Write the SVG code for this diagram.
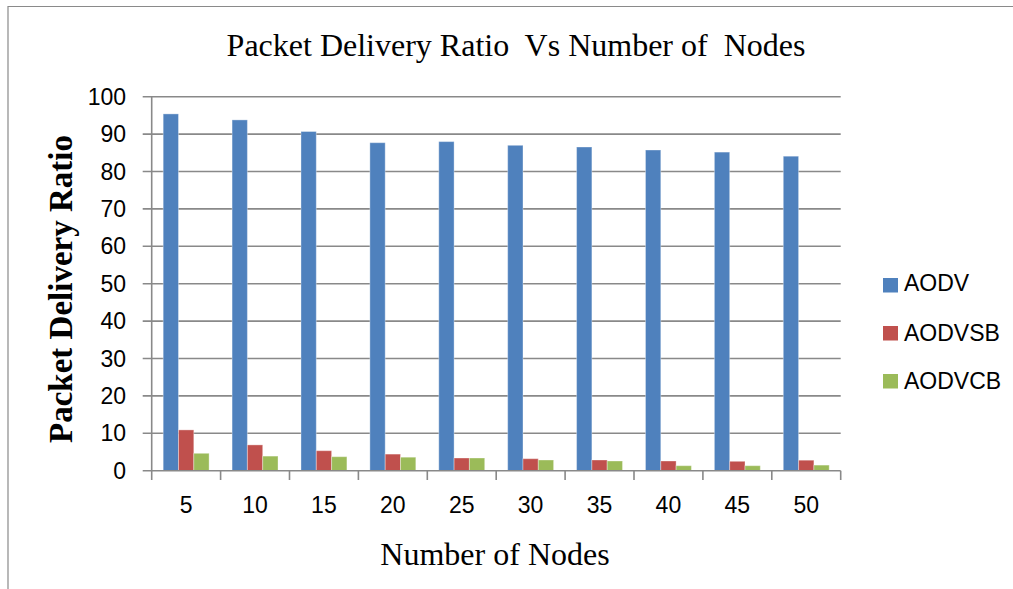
<svg xmlns="http://www.w3.org/2000/svg" width="1013" height="589" viewBox="0 0 1013 589">
<style>
.grid{stroke:#898989;stroke-width:1.6;fill:none}
.axis{stroke:#898989;stroke-width:1.6;fill:none}
.frame{stroke:#8a8a8a;stroke-width:1.2;fill:none}
.tick{font-family:"Liberation Sans",Arial,sans-serif;font-size:23px;fill:#000}
.ser{font-family:"Liberation Serif","Times New Roman",serif;fill:#000}
.aodv{fill:#4F81BD}
.sb{fill:#C0504D}
.cb{fill:#9BBB59}
.bar{stroke:#ffffff;stroke-opacity:0.35;stroke-width:1}
</style>
<rect width="1013" height="589" fill="#fff"/>
<path class="frame" d="M8,589 V6.5 H1013"/>
<text class="ser" x="516" y="56" font-size="32" text-anchor="middle" xml:space="preserve">Packet Delivery Ratio  Vs Number of  Nodes</text>
<text class="ser" font-size="33" font-weight="bold" text-anchor="middle" transform="translate(72,289) rotate(-90)">Packet Delivery Ratio</text>
<text class="ser" x="495" y="565" font-size="32" text-anchor="middle">Number of Nodes</text>
<g id="gridlines">
<path class="grid" d="M142.7,96.7H840.7M142.7,134.1H840.7M142.7,171.5H840.7M142.7,208.9H840.7M142.7,246.3H840.7M142.7,283.7H840.7M142.7,321.1H840.7M142.7,358.5H840.7M142.7,395.9H840.7M142.7,433.3H840.7"/>
</g>
<g id="yticks" class="tick" text-anchor="end">
<text x="126" y="104.7">100</text>
<text x="126" y="142.1">90</text>
<text x="126" y="179.5">80</text>
<text x="126" y="216.9">70</text>
<text x="126" y="254.3">60</text>
<text x="126" y="291.7">50</text>
<text x="126" y="329.1">40</text>
<text x="126" y="366.5">30</text>
<text x="126" y="403.9">20</text>
<text x="126" y="441.3">10</text>
<text x="126" y="478.7">0</text>
</g>
<g id="series-aodv" class="aodv bar">
<rect x="163.18" y="113.9" width="15.31" height="356.8"/>
<rect x="232.08" y="119.9" width="15.31" height="350.8"/>
<rect x="300.98" y="131.5" width="15.31" height="339.2"/>
<rect x="369.88" y="142.7" width="15.31" height="328.0"/>
<rect x="438.78" y="141.6" width="15.31" height="329.1"/>
<rect x="507.68" y="145.3" width="15.31" height="325.4"/>
<rect x="576.58" y="147.0" width="15.31" height="323.7"/>
<rect x="645.48" y="150.0" width="15.31" height="320.7"/>
<rect x="714.38" y="152.1" width="15.31" height="318.6"/>
<rect x="783.28" y="156.2" width="15.31" height="314.5"/>
</g>
<g id="series-aodvsb" class="sb bar">
<rect x="178.49" y="429.9" width="15.31" height="40.8"/>
<rect x="247.39" y="444.9" width="15.31" height="25.8"/>
<rect x="316.29" y="450.7" width="15.31" height="20.0"/>
<rect x="385.19" y="454.1" width="15.31" height="16.6"/>
<rect x="454.09" y="458.0" width="15.31" height="12.7"/>
<rect x="522.99" y="458.7" width="15.31" height="12.0"/>
<rect x="591.89" y="460.0" width="15.31" height="10.7"/>
<rect x="660.79" y="461.0" width="15.31" height="9.7"/>
<rect x="729.69" y="461.3" width="15.31" height="9.4"/>
<rect x="798.59" y="460.2" width="15.31" height="10.5"/>
</g>
<g id="series-aodvcb" class="cb bar">
<rect x="193.8" y="453.3" width="15.31" height="17.4"/>
<rect x="262.7" y="456.1" width="15.31" height="14.6"/>
<rect x="331.6" y="456.7" width="15.31" height="14.0"/>
<rect x="400.5" y="457.2" width="15.31" height="13.5"/>
<rect x="469.4" y="458.0" width="15.31" height="12.7"/>
<rect x="538.3" y="460.0" width="15.31" height="10.7"/>
<rect x="607.2" y="461.0" width="15.31" height="9.7"/>
<rect x="676.1" y="465.7" width="15.31" height="5.0"/>
<rect x="745.0" y="465.7" width="15.31" height="5.0"/>
<rect x="813.9" y="465.1" width="15.31" height="5.6"/>
</g>
<g id="axes">
<path class="axis" d="M151.7,96.7V470.7M142.7,470.7H840.7M151.7,470.7V480M220.6,470.7V480M289.5,470.7V480M358.4,470.7V480M427.3,470.7V480M496.2,470.7V480M565.1,470.7V480M634,470.7V480M702.9,470.7V480M771.8,470.7V480M840.7,470.7V480"/>
</g>
<g id="xticks" class="tick" text-anchor="middle" font-size="24">
<text x="186.1" y="512.7">5</text>
<text x="255" y="512.7">10</text>
<text x="323.9" y="512.7">15</text>
<text x="392.8" y="512.7">20</text>
<text x="461.7" y="512.7">25</text>
<text x="530.6" y="512.7">30</text>
<text x="599.5" y="512.7">35</text>
<text x="668.4" y="512.7">40</text>
<text x="737.3" y="512.7">45</text>
<text x="806.2" y="512.7">50</text>
</g>
<g id="legend" class="tick" font-size="22">
<rect class="aodv" x="883" y="278" width="15" height="14.5"/>
<text x="904" y="291">AODV</text>
<rect class="sb" x="883" y="326" width="15" height="14.5"/>
<text x="904" y="340.5">AODVSB</text>
<rect class="cb" x="883" y="374" width="15" height="14.5"/>
<text x="904" y="388.5">AODVCB</text>
</g>
</svg>
